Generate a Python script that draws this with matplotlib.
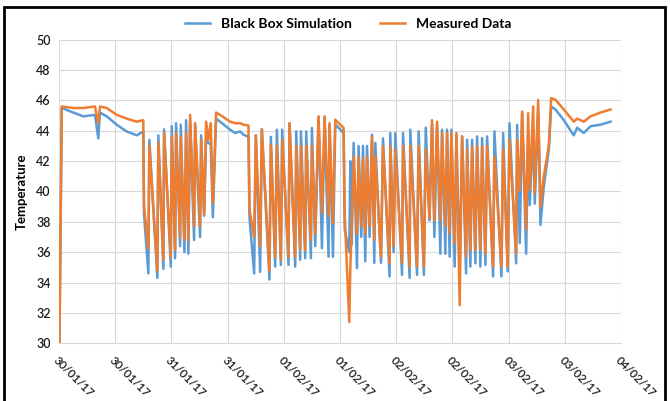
import matplotlib
matplotlib.use("Agg")
import matplotlib.pyplot as plt
import matplotlib.dates as mdates
from matplotlib.patches import Rectangle
import pandas as pd

plt.rcParams['font.family'] = ['Lato', 'DejaVu Sans']

# hours after 30/01/17 00:00 (shared by both series)
hours = [0.1, 0.6, 3.06, 5.19, 7.69, 8.4, 8.76, 10.19, 12.33, 14.47, 16.6, 18.0,
         18.16, 19.09, 19.3, 21.0, 21.22, 22.29, 22.44, 23.87, 24.08, 24.79, 25.0,
         25.86, 26.0, 26.78, 27.14, 27.63, 28.0, 28.85, 29.06, 30.13, 30.35, 30.99,
         31.41, 31.9, 32.4, 32.85, 33.55,
         34.4, 36.54, 37.6, 38.68, 39.39, 40.46,
         40.67, 41.67, 42.03, 42.95, 43.31, 44.94, 45.23, 46.16, 46.52, 47.37, 47.65,
         49.0, 49.21, 50.43, 50.65, 51.5, 51.65, 52.57, 52.78, 53.78, 54.0, 54.71,
         55.41, 56.14, 56.7, 57.55, 57.76, 58.49, 58.98, 59.69, 60.76,
         61.0, 61.97, 62.2, 62.5, 62.9, 63.62, 63.96, 64.54, 64.9, 65.39, 65.76,
         66.31, 66.82, 67.32, 67.53, 68.75, 69.17, 70.58, 70.73, 71.44, 71.8, 73.24,
         73.45, 74.86, 75.0, 76.44, 76.78, 77.9, 78.3, 79.1, 79.64, 80.14, 80.71,
         81.42, 81.78, 82.49, 82.85, 83.4, 83.77, 84.48, 84.84, 85.54, 86.06, 86.91,
         87.13, 87.83, 88.19, 88.9, 89.26, 89.97, 90.33, 91.04, 91.4, 92.68, 92.96,
         94.46, 94.82, 95.8, 96.17, 97.6, 97.81, 98.37, 98.88, 99.73, 100.16, 100.5,
         101.23, 101.57, 102.3, 102.79, 103.5, 104.57, 105.07, 106.0, 107.77, 109.9,
         110.63, 112.04, 113.47, 115.6, 117.75]

simulation = [30.0, 45.5, 45.2, 44.95, 45.05, 43.5, 45.2, 44.95, 44.4, 43.95, 43.7, 43.95,
              38.5, 34.6, 43.4, 34.3, 43.7, 34.9, 44.1, 35.05, 44.3, 35.6, 44.5,
              36.4, 44.4, 36.0, 44.7, 35.9, 44.6, 36.8, 44.4, 37.0, 43.7, 38.4,
              43.5, 43.2, 43.1, 38.3, 44.8,
              44.6, 44.07, 43.85, 43.96, 43.74, 43.6,
              38.3, 34.6, 43.7, 34.7, 44.1, 34.2, 43.6, 35.05, 44.07, 35.16, 44.07,
              35.16, 44.5, 35.05, 43.96, 35.5, 43.96, 35.6, 43.96, 35.6, 44.18, 36.4,
              44.9, 36.26, 44.9, 35.7, 44.4, 35.7, 44.4, 44.2, 43.85,
              37.5, 36.0, 42.0, 36.5, 43.2, 34.95, 43.0, 37.0, 43.0, 35.4, 43.0,
              37.0, 43.74, 35.3, 43.2, 35.3, 43.5, 34.4, 43.85, 36.0, 43.85, 34.5,
              43.85, 34.3, 44.07, 34.5, 43.96, 34.5, 44.2, 38.1, 44.5, 37.0, 44.4,
              35.9, 44.07, 35.9, 44.07, 35.7, 44.07, 35.05, 43.74, 35.0, 43.63, 34.6,
              43.41, 35.05, 43.41, 35.27, 43.63, 35.05, 43.52, 35.16, 43.63, 34.4, 43.96,
              34.4, 43.85, 34.73, 44.5, 35.27, 44.4, 36.6, 45.16, 35.9, 43.85, 39.1,
              44.0, 39.2, 45.3, 37.8, 40.3, 42.75, 45.6, 45.4, 44.7, 43.7,
              44.2, 43.85, 44.3, 44.4, 44.6]

measured = [30.0, 45.6, 45.5, 45.5, 45.6, 44.5, 45.6, 45.5, 45.05, 44.8, 44.6, 44.7,
            39.0, 36.2, 43.0, 34.8, 43.2, 35.5, 43.85, 35.7, 43.6, 36.15, 43.85,
            37.0, 43.6, 36.8, 43.85, 36.8, 45.05, 37.7, 44.5, 37.7, 43.4, 38.5,
            44.6, 43.4, 44.5, 39.2, 45.2,
            45.05, 44.6, 44.5, 44.5, 44.4, 44.35,
            38.8, 37.0, 43.7, 36.4, 44.1, 34.8, 43.1, 35.7, 43.0, 35.5, 43.4,
            35.7, 44.5, 35.7, 43.0, 36.15, 42.97, 36.15, 43.0, 36.8, 43.0, 37.25,
            44.95, 38.6, 44.95, 38.35, 44.5, 37.9, 44.73, 44.5, 44.2,
            38.5, 31.4, 35.0, 37.7, 42.3, 37.25, 42.3, 37.7, 42.1, 37.25, 42.3,
            37.7, 43.6, 36.8, 42.3, 35.7, 43.0, 35.3, 43.0, 36.4, 42.75, 35.3,
            43.0, 35.05, 43.0, 35.05, 43.0, 35.05, 42.75, 38.2, 44.7, 38.1, 44.6,
            38.1, 43.85, 37.7, 43.85, 37.25, 43.85, 36.6, 43.85, 32.5, 43.63, 35.7,
            42.75, 36.15, 42.97, 36.15, 42.97, 36.15, 42.97, 35.93, 42.97, 35.05, 42.3,
            35.05, 42.75, 35.05, 43.4, 35.93, 43.4, 40.0, 45.27, 37.5, 45.16, 40.1,
            45.6, 39.9, 46.04, 39.0, 41.0, 43.0, 46.15, 46.04, 45.4, 44.6,
            44.8, 44.6, 44.95, 45.2, 45.4]

y_ticks = list(range(30, 51, 2))

start = pd.Timestamp('2017-01-30')
times = start + pd.to_timedelta(hours, unit='h')

fig = plt.figure(figsize=(6.7, 4.01), dpi=100)
ax = fig.add_axes([0.088, 0.144, 0.839, 0.757])

ax.plot(times, simulation, color='#5B9BD5', lw=1.8, label='Black Box Simulation', zorder=3)
ax.plot(times, measured, color='#ED7D31', lw=1.8, label='Measured Data', zorder=4)

ax.set_xlim(start, pd.Timestamp('2017-02-04'))
ax.set_ylim(30, 50)
ax.set_yticks(y_ticks)
ax.xaxis.set_major_locator(mdates.HourLocator(byhour=[0, 12]))
ax.xaxis.set_major_formatter(mdates.DateFormatter('%d/%m/%y'))
for lab in ax.get_xticklabels():
    lab.set_rotation(-45)
    lab.set_ha('left')
    lab.set_rotation_mode('anchor')
    lab.set_fontweight('semibold')
for lab in ax.get_yticklabels():
    lab.set_fontweight('semibold')
ax.tick_params(axis='x', labelsize=8.5, length=0, pad=8, colors='#1a1a1a')
ax.tick_params(axis='y', labelsize=9, length=0, pad=6, colors='#1a1a1a')

ax.grid(True, color='#D9D9D9', lw=0.8)
ax.set_axisbelow(True)
for side in ['top', 'right', 'left']:
    ax.spines[side].set_visible(False)
ax.spines['bottom'].set_color('#D9D9D9')

ax.set_ylabel('Temperature', fontsize=9.5, fontweight='bold', labelpad=6)

leg = fig.legend(loc='center', bbox_to_anchor=(0.52, 0.94), ncol=2, frameon=False,
                 prop={'weight': 'bold', 'size': 10}, handlelength=1.8, columnspacing=2.0)

# black frame around the chart
fig.patches.append(Rectangle((0.006, -0.05), 0.986, 1.032, transform=fig.transFigure,
                             fill=False, edgecolor='black', lw=2.0))

fig.savefig('out.png', dpi=100)
